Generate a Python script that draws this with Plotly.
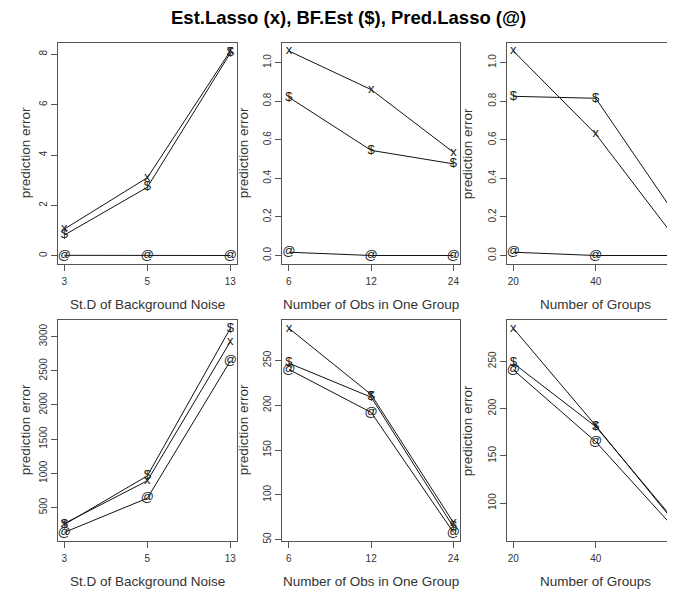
import plotly.graph_objects as go

# the page body adds an 8px margin; the figure is sized to fill the rest of the window
OFF = 8
W, H = 675 - OFF, 592 - OFF

# ---- tick labels (categories) ----
noise_sd = ["3", "5", "13"]
obs_per_group = ["6", "12", "24"]
n_groups = ["20", "40", "80"]
cat_pos = [1, 2, 3]

# ---- top row: prediction error ----
noise_est_lasso_top = [1.06, 3.10, 8.13]
noise_bf_est_top = [0.82, 2.72, 8.05]
noise_pred_lasso_top = [0.017, 0.01, 0.01]

obs_est_lasso_top = [1.06, 0.86, 0.535]
obs_bf_est_top = [0.82, 0.545, 0.475]
obs_pred_lasso_top = [0.017, 0.0, 0.0]

grp_est_lasso_top = [1.06, 0.63, 0.07]
grp_bf_est_top = [0.825, 0.815, 0.19]
grp_pred_lasso_top = [0.017, 0.0, 0.0]

# ---- bottom row: prediction error ----
noise_est_lasso_bot = [265, 890, 2927]
noise_bf_est_bot = [250, 962, 3122]
noise_pred_lasso_bot = [135, 635, 2645]

obs_est_lasso_bot = [286, 212, 69]
obs_bf_est_bot = [247, 209, 64]
obs_pred_lasso_bot = [240, 192, 58]

grp_est_lasso_bot = [285, 182, 75]
grp_bf_est_bot = [248, 181, 77]
grp_pred_lasso_bot = [241, 165, 69]

x_titles = ["St.D of Background Noise", "Number of Obs in One Group", "Number of Groups"]
y_title = "prediction error"
main_title = "Est.Lasso (x), BF.Est ($), Pred.Lasso (@)"
symbols = ["x", "$", "@"]

FONT = "Liberation Sans, Arial, sans-serif"
BOX = "#555555"

# panel geometry in window pixels (left, right) and (top, bottom)
cols_px = [(57.7, 237.0), (282.3, 460.0), (506.7, 684.7)]
rows_px = [(43.0, 265.0), (321.7, 543.3)]


def px_x(v):
    return (v - OFF) / W


def px_y(v):
    return 1 - (v - OFF) / H


panels = [
    (0, 0, noise_sd, [noise_est_lasso_top, noise_bf_est_top, noise_pred_lasso_top], dict(dtick=2, tickformat="d")),
    (0, 1, obs_per_group, [obs_est_lasso_top, obs_bf_est_top, obs_pred_lasso_top], dict(dtick=0.2, tickformat=".1f")),
    (0, 2, n_groups, [grp_est_lasso_top, grp_bf_est_top, grp_pred_lasso_top], dict(dtick=0.2, tickformat=".1f")),
    (1, 0, noise_sd, [noise_est_lasso_bot, noise_bf_est_bot, noise_pred_lasso_bot], dict(dtick=500, tickformat="d")),
    (1, 1, obs_per_group, [obs_est_lasso_bot, obs_bf_est_bot, obs_pred_lasso_bot], dict(dtick=50, tickformat="d")),
    (1, 2, n_groups, [grp_est_lasso_bot, grp_bf_est_bot, grp_pred_lasso_bot], dict(dtick=50, tickformat="d")),
]

fig = go.Figure()
layout = {}
annotations = []

for i, (r, c, labels, series, ytick) in enumerate(panels, start=1):
    xa = "x" if i == 1 else f"x{i}"
    ya = "y" if i == 1 else f"y{i}"
    xkey = "xaxis" if i == 1 else f"xaxis{i}"
    ykey = "yaxis" if i == 1 else f"yaxis{i}"

    for sym, vals in zip(symbols, series):
        fig.add_trace(go.Scatter(
            x=cat_pos, y=vals, mode="lines+text",
            text=[sym] * len(vals), textposition="middle center",
            textfont=dict(family=FONT, size=13, color="#222222"),
            line=dict(color="#111111", width=1),
            xaxis=xa, yaxis=ya, showlegend=False, hoverinfo="skip",
        ))

    # R-style ranges (4% extension)
    allv = [v for s in series for v in s]
    lo, hi = min(allv), max(allv)
    ext = 0.04 * (hi - lo)
    yr = [lo - ext, hi + ext]

    xl, xr = cols_px[c]
    yt, yb = rows_px[r]
    x_lo, x_hi = 1 - 0.04 * 2, 3 + 0.04 * 2
    dom_r = min(xr, W + OFF)
    x_hi_vis = x_lo + (x_hi - x_lo) * (dom_r - xl) / (xr - xl)

    layout[xkey] = dict(
        domain=[px_x(xl), px_x(dom_r)], anchor=ya, range=[x_lo, x_hi_vis],
        tickvals=cat_pos, ticktext=labels,
        showline=True, linecolor=BOX, linewidth=1, mirror=True,
        ticks="outside", ticklen=6, tickcolor=BOX, tickwidth=1,
        ticklabelstandoff=2,
        showgrid=False, zeroline=False,
        tickfont=dict(family=FONT, size=10, color="#333333"),
    )
    layout[ykey] = dict(
        domain=[px_y(yb), px_y(yt)], anchor=xa, range=yr,
        tick0=0, **ytick,
        showline=True, linecolor=BOX, linewidth=1, mirror=(c != 2),
        ticks="outside", ticklen=6, tickcolor=BOX, tickwidth=1,
        showgrid=False, zeroline=False, tickangle=-90,
        tickfont=dict(family=FONT, size=10, color="#333333"),
    )

    annotations.append(dict(
        text=x_titles[c], xref="paper", yref="paper",
        x=px_x((xl + xr) / 2), y=px_y(yb + 41.5),
        xanchor="center", yanchor="middle",
        showarrow=False, font=dict(family=FONT, size=13.5, color="#333333"),
    ))

ytitle_x = [25, 243, 467]
for r in range(2):
    yt, yb = rows_px[r]
    for c in range(3):
        annotations.append(dict(
            text=y_title, xref="paper", yref="paper",
            x=px_x(ytitle_x[c]), y=px_y((yt + yb) / 2), textangle=-90,
            xanchor="center", yanchor="middle", showarrow=False,
            font=dict(family=FONT, size=13.5, color="#333333"),
        ))

annotations.append(dict(
    text="<b>" + main_title + "</b>", xref="paper", yref="paper",
    x=px_x(348), y=px_y(17.5), xanchor="center", yanchor="middle",
    showarrow=False, font=dict(family=FONT, size=18.5, color="#000000"),
))

fig.update_layout(
    width=W, height=H, margin=dict(l=0, r=0, t=0, b=0),
    paper_bgcolor="white", plot_bgcolor="white",
    annotations=annotations, **layout,
)

fig.write_html("out.html")
